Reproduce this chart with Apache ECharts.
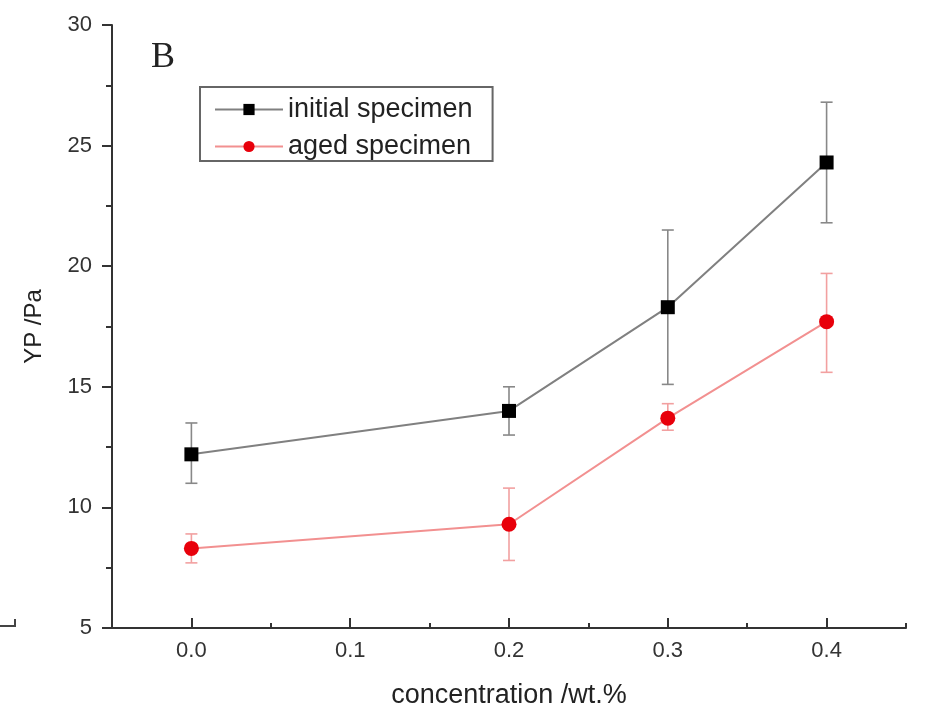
<!DOCTYPE html>
<html><head><meta charset="utf-8">
<script src="https://cdn.jsdelivr.net/npm/echarts@6/dist/echarts.min.js"></script>
<style>html,body{margin:0;padding:0;background:#fff}#c{width:937px;height:715px}</style>
</head><body><div id="c"></div>
<script>
const concentrations = [0.0, 0.2, 0.3, 0.4];
const initialYP = [12.2, 14.0, 18.3, 24.3];
const initialLow = [11.0, 13.0, 15.1, 21.8];
const initialHigh = [13.5, 15.0, 21.5, 26.8];
const agedYP = [8.3, 9.3, 13.7, 17.7];
const agedLow = [7.7, 7.8, 13.2, 15.6];
const agedHigh = [8.9, 10.8, 14.3, 19.7];
const xTicks = [0.0, 0.1, 0.2, 0.3, 0.4];
const xMinorTicks = [0.05, 0.15, 0.25, 0.35, 0.45];
const yTicks = [5, 10, 15, 20, 25, 30];

const font = 'Liberation Sans, Arial, sans-serif';
function pairs(ys){ return concentrations.map((x,i)=>[x, ys[i]]); }
function errData(lo, hi){ return concentrations.map((x,i)=>[x, lo[i], hi[i]]); }
function errSeries(lo, hi, color){
  return {
    type:'custom', silent:true, z:1,
    data: errData(lo, hi),
    renderItem: function(params, api){
      const top = api.coord([api.value(0), api.value(2)]);
      const bot = api.coord([api.value(0), api.value(1)]);
      const w = 6;
      return {type:'group', children:[
        {type:'line', shape:{x1:top[0],y1:top[1],x2:bot[0],y2:bot[1]}, style:{stroke:color, lineWidth:1.6}},
        {type:'line', shape:{x1:top[0]-w,y1:top[1],x2:top[0]+w,y2:top[1]}, style:{stroke:color, lineWidth:1.6}},
        {type:'line', shape:{x1:bot[0]-w,y1:bot[1],x2:bot[0]+w,y2:bot[1]}, style:{stroke:color, lineWidth:1.6}}
      ]};
    }
  };
}

const chart = echarts.init(document.getElementById('c'), null, {renderer:'canvas'});
chart.setOption({
  backgroundColor:'#fff',
  animation:false,
  grid:{left:112, right:31, top:25, bottom:87, containLabel:false},
  xAxis:[{
    type:'value', min:-0.05, max:0.45, interval:0.05, position:'bottom',
    name:'concentration /wt.%', nameLocation:'middle', nameGap:54,
    nameTextStyle:{fontFamily:font, fontSize:27, color:'#222'},
    axisLine:{show:true, onZero:false, lineStyle:{color:'#333', width:2}},
    axisTick:{show:true, inside:true, length:10, customValues:xTicks, lineStyle:{color:'#333', width:2}},
    axisLabel:{fontFamily:font, fontSize:22, color:'#333', margin:12, customValues:xTicks,
      formatter:function(v){ return (Math.round(v*10)/10).toFixed(1); }},
    splitLine:{show:false}
  },{
    type:'value', min:-0.05, max:0.45, interval:0.05, position:'bottom',
    axisLine:{show:false, onZero:false},
    axisTick:{show:true, inside:true, length:5, customValues:xMinorTicks, lineStyle:{color:'#333', width:2}},
    axisLabel:{show:false},
    splitLine:{show:false}
  }],
  yAxis:{
    type:'value', min:5, max:30, interval:5,
    name:'YP /Pa', nameLocation:'middle', nameGap:66, nameRotate:90,
    nameTextStyle:{fontFamily:font, fontSize:24, color:'#222'},
    axisLine:{show:true, onZero:false, lineStyle:{color:'#333', width:2}},
    axisTick:{show:true, inside:false, length:10, lineStyle:{color:'#333', width:2}},
    minorTick:{show:true, splitNumber:2, length:6, lineStyle:{color:'#333', width:2}},
    axisLabel:{fontFamily:font, fontSize:22, color:'#333', margin:20},
    splitLine:{show:false}
  },
  legend:{
    left:200, top:87, orient:'vertical', itemGap:10,
    itemWidth:68, itemHeight:14,
    borderColor:'#666', borderWidth:2, padding:[9,20,1,14],
    textStyle:{fontFamily:font, fontSize:27, color:'#222'},
    data:['initial specimen','aged specimen']
  },
  graphic:[
    {type:'text', left:151, top:40, style:{text:'B', font:'36px "Liberation Serif", "Times New Roman", serif', fill:'#222'}},
    {type:'polyline', shape:{points:[[0,626],[15,626],[15,619]]}, style:{stroke:'#444', lineWidth:2, fill:null}}
  ],
  series:[
    errSeries(initialLow, initialHigh, '#888'),
    errSeries(agedLow, agedHigh, '#f2a0a0'),
    {name:'initial specimen', type:'line', z:3, data:pairs(initialYP),
      symbol:'rect', symbolSize:14, itemStyle:{color:'#000'},
      lineStyle:{color:'#808080', width:2}},
    {name:'aged specimen', type:'line', z:3, data:pairs(agedYP),
      symbol:'circle', symbolSize:15, itemStyle:{color:'#e8000b'},
      lineStyle:{color:'#f29090', width:2}}
  ]
});
</script></body></html>
